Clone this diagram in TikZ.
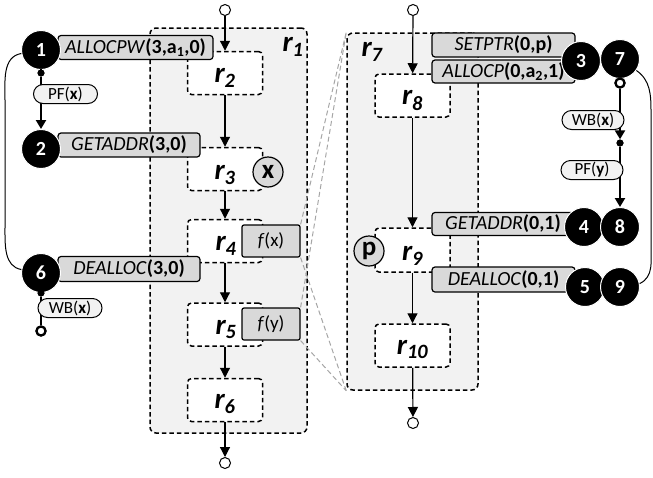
\documentclass[tikz,border=0pt]{standalone}
\usepackage{fontspec}
\setmainfont{Carlito}
\usetikzlibrary{arrows.meta,calc}
\definecolor{contfill}{HTML}{F2F2F2}
\definecolor{boxfill}{HTML}{D9D9D9}
\definecolor{pillfill}{HTML}{F2F2F2}
\definecolor{guidecol}{HTML}{A6A6A6}
\tikzset{
  cont/.style={draw, dash pattern=on 4.5pt off 3pt, line width=1.5pt, rounded corners=6pt, fill=contfill, inner sep=0pt},
  rbox/.style={draw, dash pattern=on 4.5pt off 3pt, line width=1.5pt, rounded corners=4pt, fill=white, minimum width=75pt, minimum height=43pt, inner sep=0pt},
  rlabel/.style={font=\fontsize{29}{31}\selectfont\bfseries\itshape, inner sep=0pt},
  opbox/.style={draw, line width=1.2pt, fill=boxfill, rounded corners=3pt, minimum height=24pt, inner sep=0pt, font=\fontsize{20}{22}\selectfont},
  fnbox/.style={draw, line width=1.2pt, fill=boxfill, rounded corners=2pt, minimum width=58pt, minimum height=32pt, inner sep=0pt, font=\fontsize{19}{21}\selectfont},
  evt/.style={circle, fill=black, draw=white, line width=1pt, minimum size=39pt, inner sep=0pt, text=white, font=\fontsize{20}{22}\selectfont\bfseries},
  varc/.style={circle, draw, line width=1.2pt, fill=boxfill, minimum size=30pt, inner sep=0pt, font=\fontsize{27}{29}\selectfont\bfseries},
  pill/.style={draw, line width=1pt, fill=pillfill, rounded corners=9.5pt, minimum width=64pt, minimum height=19pt, inner sep=0pt, font=\fontsize{17}{18}\selectfont},
  termc/.style={circle, draw, line width=1pt, fill=white, minimum size=11pt, inner sep=0pt},
  hollowc/.style={circle, draw, line width=2.2pt, fill=white, minimum size=9pt, inner sep=0pt},
  evdot/.style={circle, fill=black, minimum size=7pt, inner sep=0pt},
  flowarr/.style={line width=1.2pt, -{Triangle[length=10pt,width=10pt]}},
  evline/.style={line width=2.2pt},
  evarr/.style={line width=2.2pt, -{Triangle[length=9pt,width=10pt]}},
  guideline/.style={draw=guidecol, dash pattern=on 5pt off 3pt, line width=1pt},
  loopline/.style={line width=1pt}
}
\begin{document}
\begin{tikzpicture}[x=1pt,y=-1pt]
\useasboundingbox (0,0) rectangle (653,477);
% containers
\node[cont, minimum width=157pt, minimum height=405pt] (r1) at (228.5,230.5) {};
\node[cont, minimum width=131pt, minimum height=357pt] (r7) at (412.5,211.5) {};
\node[rlabel] (l1) at (293,47) {r\textsubscript{1}};
\node[rlabel] (l7) at (372,52) {r\textsubscript{7}};
% left regions
\node[rbox] (r2) at (225,73) {};
\node[rbox] (r3) at (225,169) {};
\node[rbox] (r4) at (225,241) {};
\node[rbox] (r5) at (225,324.5) {};
\node[rbox] (r6) at (225,400) {};
% right regions
\node[rbox] (r8) at (412.5,95.5) {};
\node[rbox, minimum height=44pt] (r9) at (412.5,250) {};
\node[rbox] (r10) at (412.5,345.5) {};
% f boxes
\node[fnbox] (fx) at (271,241) {\textit{f}(x)};
\node[fnbox] (fy) at (271,324) {\textit{f}(y)};
% guide lines
\draw[guideline] (fx.north east) -- (r7.north west);
\draw[guideline] (fx.south east) -- (r7.south west);
\draw[guideline] (fy.north east) -- (r7.north west);
\draw[guideline] (fy.south east) -- (r7.south west);
% region labels
\node[rlabel] (l2) at ($(r2)+(0,5)$) {r\textsubscript{2}};
\node[rlabel] (l3) at ($(r3)+(0,6)$) {r\textsubscript{3}};
\node[rlabel] (l4) at ($(r4)+(1,5)$) {r\textsubscript{4}};
\node[rlabel] (l5) at ($(r5)+(1,5)$) {r\textsubscript{5}};
\node[rlabel] (l6) at ($(r6)+(0,4)$) {r\textsubscript{6}};
\node[rlabel] (l8) at ($(r8)+(0,5)$) {r\textsubscript{8}};
\node[rlabel] (l9) at ($(r9)+(0,6)$) {r\textsubscript{9}};
\node[rlabel] (l10) at ($(r10)+(0,4)$) {r\textsubscript{10}};
% variables
\node[varc] (vx) at (268,172) {x};
\node[varc] (vp) at (369,251) {p};
% terminals and flow
\node[termc] (t1) at (225,10) {};
\node[termc] (t1b) at (225,463) {};
\node[termc] (t7) at (413,10) {};
\node[termc] (t7b) at (413,423) {};
\draw[flowarr] (t1) -- (r2);
\draw[flowarr] (r2) -- (r3);
\draw[flowarr] (r3) -- (r4);
\draw[flowarr] (r4.south) -- (r5.north);
\draw[flowarr] (r5) -- (r6);
\draw[flowarr] (r6) -- (t1b);
\draw[flowarr] (t7) -- (r8);
\draw[flowarr] (r8) -- (r9);
\draw[flowarr] (r9) -- (r10);
\draw[flowarr] (r10) -- (t7b);
% operation boxes
\node[opbox, minimum width=155pt] (o1) at (135.5,47.5) {\textit{ALLOCPW}\textbf{(3,a\textsubscript{1},0)}};
\node[opbox, minimum width=142pt] (o2) at (129,145) {\textit{GETADDR}\textbf{(3,0)}};
\node[opbox, minimum width=142pt, minimum height=25pt] (o6) at (129,269) {\textit{DEALLOC}\textbf{(3,0)}};
\node[opbox, minimum width=143pt] (o3a) at (503.5,45) {\textit{SETPTR}\textbf{(0,p)}};
\node[opbox, minimum width=143pt, minimum height=23pt] (o3b) at (503.5,71.5) {\textit{ALLOCP}\textbf{(0,a\textsubscript{2},1)}};
\node[opbox, minimum width=142pt, minimum height=23pt] (o4) at (503,224) {\textit{GETADDR}\textbf{(0,1)}};
\node[opbox, minimum width=143pt, minimum height=25pt] (o5) at (503.5,279.5) {\textit{DEALLOC}\textbf{(0,1)}};
% left event chain
\node[evdot] (d1) at (41,73) {};
\node[evdot] (d6) at (41,293) {};
\node[hollowc] (h6) at (41,331) {};
\node[evdot] (d7) at (620,143) {};
\node[hollowc] (h7) at (620,83) {};
\coordinate (lv1) at (5,100);
\coordinate (lv2) at (5,228);
\coordinate (rv1) at (651,112);
\coordinate (rv2) at (651,245);
% event circles
\node[evt] (c1) at (41,50) {1};
\node[evt] (c2) at (41,149) {2};
\node[evt] (c6) at (41,273) {6};
\node[evt] (c3) at (581,61) {3};
\node[evt] (c7) at (620,59) {7};
\node[evt] (c4) at (584,227) {4};
\node[evt] (c8) at (620,227) {8};
\node[evt] (c5) at (585,287) {5};
\node[evt] (c9) at (620,287) {9};
% event edges
\draw[evline] (c1) -- (d1);
\draw[evarr] (d1) -- (c2);
\draw[evline] (c6) -- (d6);
\draw[evline] (d6) -- (h6);
\draw[evarr] (h7) -- (d7);
\draw[evarr] (d7) -- (c8);
\node[evdot] (d1b) at (d1) {};
\node[evdot] (d6b) at (d6) {};
\node[evdot] (d7b) at (d7) {};
\node[hollowc] (h6b) at (h6) {};
\node[hollowc] (h7b) at (h7) {};
\node[pill] (p1) at (65.5,94) {PF(\textbf{x})};
\node[pill] (p6) at (70,308) {WB(\textbf{x})};
\node[pill, minimum width=62pt] (p7) at (593,120) {WB(\textbf{x})};
\node[pill, minimum width=62pt] (p8) at (592,170) {PF(\textbf{y})};
% loops
\draw[loopline] (c1.190) to[out=190,in=90] (lv1) -- (lv2) to[out=-90,in=170] (c6.170);
\draw[loopline] (c7.-35) to[out=-35,in=90] (rv1) -- (rv2) to[out=-90,in=25] (c9.10);
\end{tikzpicture}
\end{document}
